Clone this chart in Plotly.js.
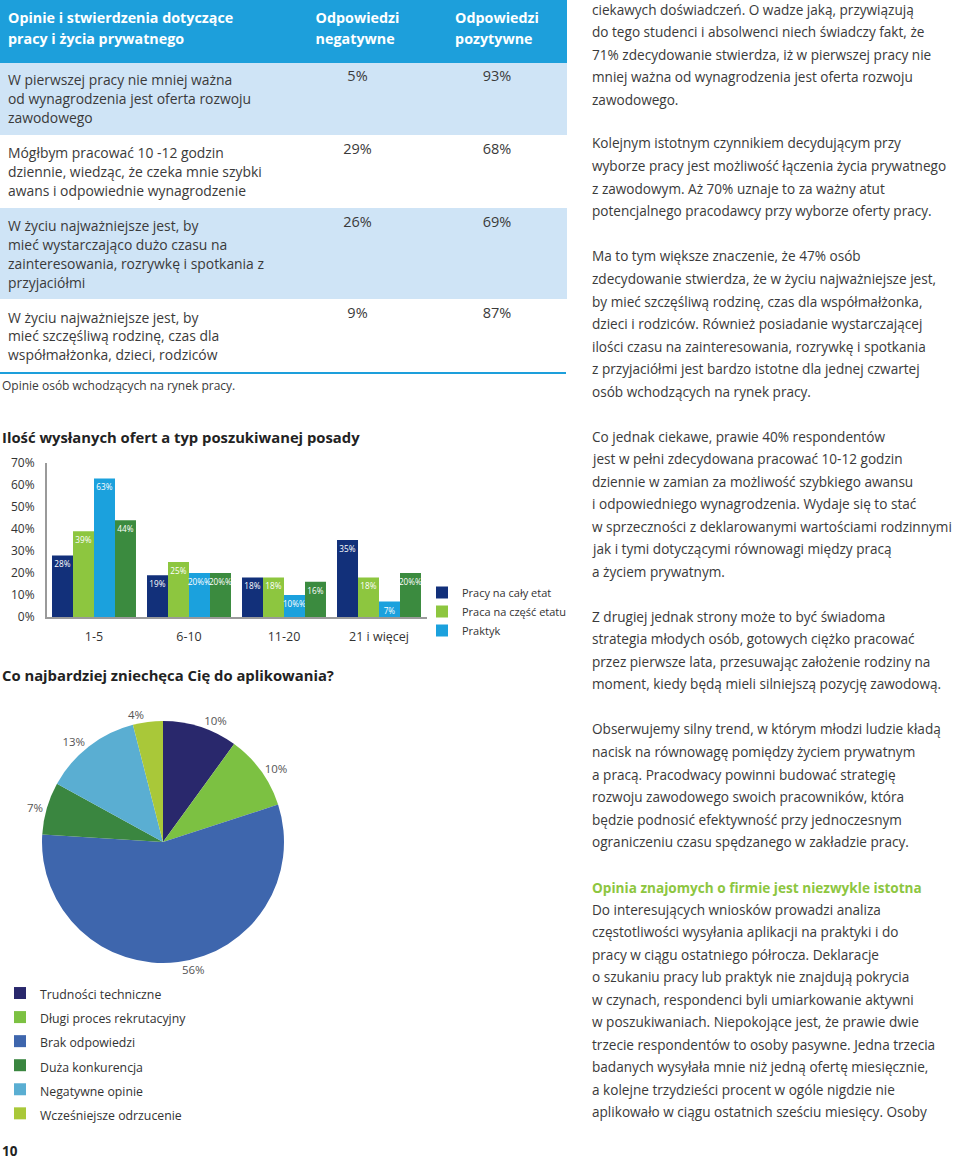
<!DOCTYPE html>
<html><head><meta charset="utf-8">
<script src="https://cdn.plot.ly/plotly-3.0.1.min.js"></script>
<style>html,body{margin:0;padding:0;background:#fff}#chart{width:960px;height:1162px}</style>
</head><body><div id="chart"></div>
<script>
// ---------------- DATA ----------------
const tableHeader = ['Opinie i stwierdzenia dotyczące<br>pracy i życia prywatnego', 'Odpowiedzi<br>negatywne', 'Odpowiedzi<br>pozytywne'];
const statements = [
  'W pierwszej pracy nie mniej ważna<br>od wynagrodzenia jest oferta rozwoju<br>zawodowego',
  'Mógłbym pracować 10 -12 godzin<br>dziennie, wiedząc, że czeka mnie szybki<br>awans i odpowiednie wynagrodzenie',
  'W życiu najważniejsze jest, by<br>mieć wystarczająco dużo czasu na<br>zainteresowania, rozrywkę i spotkania z<br>przyjaciółmi',
  'W życiu najważniejsze jest, by<br>mieć szczęśliwą rodzinę, czas dla<br>współmałżonka, dzieci, rodziców'
];
const negativeAnswers = [5, 29, 26, 9];
const positiveAnswers = [93, 68, 69, 87];
const tableNote = 'Opinie osób wchodzących na rynek pracy.';

const barTitle = 'Ilość wysłanych ofert a typ poszukiwanej posady';
const offerCategories = ['1-5', '6-10', '11-20', '21 i więcej'];
const fullTimeJob = [28, 19, 18, 35];
const partTimeJob = [39, 25, 18, 18];
const internship = [63, 20, 10, 7];
const fourthSeries = [44, 20, 16, 20];
const barSeriesNames = ['Pracy na cały etat', 'Praca na część etatu', 'Praktyk', 'Pozostałe'];
const yTickValues = [0, 10, 20, 30, 40, 50, 60, 70];
const yTickLabels = ['0%', '10%', '20%', '30%', '40%', '50%', '60%', '70%'];

const pieTitle = 'Co najbardziej zniechęca Cię do aplikowania?';
const pieLabels = ['Trudności techniczne', 'Długi proces rekrutacyjny', 'Brak odpowiedzi', 'Duża konkurencja', 'Negatywne opinie', 'Wcześniejsze odrzucenie'];
const pieValues = [10, 10, 56, 7, 13, 4];

const pageNumber = '10';
const sideHeading = 'Opinia znajomych o firmie jest niezwykle istotna';
const paragraphs = [
  ['ciekawych doświadczeń. O wadze jaką, przywiązują',
   'do tego studenci i absolwenci niech świadczy fakt, że',
   '71% zdecydowanie stwierdza, iż w pierwszej pracy nie',
   'mniej ważna od wynagrodzenia jest oferta rozwoju',
   'zawodowego.'],
  ['Kolejnym istotnym czynnikiem decydującym przy',
   'wyborze pracy jest możliwość łączenia życia prywatnego',
   'z zawodowym. Aż 70% uznaje to za ważny atut',
   'potencjalnego pracodawcy przy wyborze oferty pracy.'],
  ['Ma to tym większe znaczenie, że 47% osób',
   'zdecydowanie stwierdza, że w życiu najważniejsze jest,',
   'by mieć szczęśliwą rodzinę, czas dla współmałżonka,',
   'dzieci i rodziców. Również posiadanie wystarczającej',
   'ilości czasu na zainteresowania, rozrywkę i spotkania',
   'z przyjaciółmi jest bardzo istotne dla jednej czwartej',
   'osób wchodzących na rynek pracy.'],
  ['Co jednak ciekawe, prawie 40% respondentów',
   'jest w pełni zdecydowana pracować 10-12 godzin',
   'dziennie w zamian za możliwość szybkiego awansu',
   'i odpowiedniego wynagrodzenia. Wydaje się to stać',
   'w sprzeczności z deklarowanymi wartościami rodzinnymi',
   'jak i tymi dotyczącymi równowagi między pracą',
   'a życiem prywatnym.'],
  ['Z drugiej jednak strony może to być świadoma',
   'strategia młodych osób, gotowych ciężko pracować',
   'przez pierwsze lata, przesuwając założenie rodziny na',
   'moment, kiedy będą mieli silniejszą pozycję zawodową.'],
  ['Obserwujemy silny trend, w którym młodzi ludzie kładą',
   'nacisk na równowagę pomiędzy życiem prywatnym',
   'a pracą. Pracodwacy powinni budować strategię',
   'rozwoju zawodowego swoich pracowników, która',
   'będzie podnosić efektywność przy jednoczesnym',
   'ograniczeniu czasu spędzanego w zakładzie pracy.'],
  ['Do interesujących wniosków prowadzi analiza',
   'częstotliwości wysyłania aplikacji na praktyki i do',
   'pracy w ciągu ostatniego półrocza. Deklaracje',
   'o szukaniu pracy lub praktyk nie znajdują pokrycia',
   'w czynach, respondenci byli umiarkowanie aktywni',
   'w poszukiwaniach. Niepokojące jest, że prawie dwie',
   'trzecie respondentów to osoby pasywne. Jedna trzecia',
   'badanych wysyłała mnie niż jedną ofertę miesięcznie,',
   'a kolejne trzydzieści procent w ogóle nigdzie nie',
   'aplikowało w ciągu ostatnich sześciu miesięcy. Osoby']
];

// ---------------- LAYOUT HELPERS ----------------
const W = 960, H = 1162;
const px = x => x / W;
const py = y => 1 - y / H;
const FONT = 'Open Sans, Noto Sans, sans-serif';
const TXT = '#3a3a3a';
const paragraphStartY = [9, 143, 256, 436, 616, 729, 909];
const headingY = 887;
const lineStep = 22.55;

const barColors = ['#12307a', '#8dc63f', '#1ba1dd', '#3b8b3f'];
const pieColors = ['#29286c', '#7cc142', '#3e66ad', '#3a8640', '#5aaed2', '#a9c839'];
const rowFill = ['#cfe4f6', '#ffffff', '#cfe4f6', '#ffffff'];
const headFill = '#1d9fdb';
const span = (t, size, bold) => '<span style="font-size:' + size + 'px">' + (bold ? '<b>' + t + '</b>' : t) + '</span>';

// ---------------- TRACES ----------------
const traces = [];
traces.push({
  type: 'table',
  domain: {x: [0, px(566)], y: [py(385), 1]},
  columnwidth: [287, 141, 138],
  header: {
    values: tableHeader.map(t => span(t, 14.3, true)),
    align: ['left', 'center', 'center'],
    fill: {color: headFill},
    line: {color: headFill, width: 1},
    font: {family: FONT, size: 16.5, color: '#ffffff'},
    height: 62
  },
  cells: {
    values: [statements.map(t => span(t, 13.9)),
             negativeAnswers.map(v => v + '%'),
             positiveAnswers.map(v => v + '%')],
    align: ['left', 'center', 'center'],
    fill: {color: [rowFill, rowFill, rowFill]},
    line: {color: [rowFill, rowFill, rowFill], width: 1},
    font: {family: FONT, size: 14.5, color: TXT},
    height: 73
  }
});

const barSeries = [fullTimeJob, partTimeJob, internship, fourthSeries];
barSeries.forEach((vals, i) => {
  traces.push({
    type: 'bar', x: offerCategories, y: vals, name: barSeriesNames[i],
    showlegend: i < 3, legend: 'legend',
    marker: {color: barColors[i]},
    texttemplate: '%{y}%', textposition: 'inside', insidetextanchor: 'end',
    constraintext: 'none', textangle: 0,
    textfont: {family: FONT, size: 8.2, color: '#ffffff'},
    hoverinfo: 'x+y+name'
  });
});

traces.push({
  type: 'pie', labels: pieLabels.map(l => span(l, 12.3)),
  values: pieValues, sort: false, direction: 'clockwise', rotation: 0,
  marker: {colors: pieColors, line: {width: 0}},
  texttemplate: '%{value}%', textposition: 'outside',
  outsidetextfont: {family: FONT, size: 11.5, color: '#555555'},
  domain: {x: [px(42), px(284)], y: [py(963), py(721)]},
  legend: 'legend2', showlegend: true, automargin: false
});

// ---------------- ANNOTATIONS ----------------
const annotations = [];
const ann = (text, x, y, opts = {}) => annotations.push(Object.assign({
  text, x: px(x), y: py(y), xref: 'paper', yref: 'paper', xanchor: 'left', yanchor: 'middle',
  showarrow: false, font: {family: FONT, size: 13.6, color: TXT}
}, opts));

paragraphs.forEach((lines, p) => {
  lines.forEach((line, i) => ann(line, 590, paragraphStartY[p] + i * lineStep));
});
ann('<b>' + sideHeading + '</b>', 590, headingY, {font: {family: FONT, size: 13.6, color: '#8dc63f'}});
ann(tableNote, 0, 386, {font: {family: FONT, size: 12, color: TXT}});
ann('<b>' + barTitle + '</b>', 0, 437, {font: {family: FONT, size: 14.8, color: '#222222'}});
ann('<b>' + pieTitle + '</b>', 0, 675, {font: {family: FONT, size: 14.8, color: '#222222'}});
ann('<b>' + pageNumber + '</b>', 0, 1162, {yanchor: 'bottom', font: {family: FONT, size: 13.5, color: '#222222'}});

const layout = {
  width: W, height: H,
  margin: {l: 0, r: 0, t: 0, b: 0, autoexpand: false},
  paper_bgcolor: '#ffffff', plot_bgcolor: 'rgba(0,0,0,0)',
  font: {family: FONT, color: TXT},
  barmode: 'group', bargap: 0.116, bargroupgap: 0,
  xaxis: {
    domain: [px(46.5), px(426.5)], anchor: 'y', type: 'category',
    showline: true, linecolor: '#9a9a9a', linewidth: 1.5, ticks: '', showgrid: false,
    tickfont: {family: FONT, size: 12.5, color: '#333333'}, ticklabelstandoff: 7, fixedrange: true
  },
  yaxis: {
    domain: [py(617), py(463)], anchor: 'x', range: [0, 70],
    tickmode: 'array', tickvals: yTickValues, ticktext: yTickLabels,
    showline: true, linecolor: '#9a9a9a', linewidth: 1.5, ticks: '', showgrid: false, zeroline: false,
    tickfont: {family: FONT, size: 12, color: '#333333'}, ticklabelstandoff: 8, fixedrange: true
  },
  legend: {
    x: px(422), y: py(578), xanchor: 'left', yanchor: 'top', bgcolor: 'rgba(0,0,0,0)',
    font: {family: FONT, size: 11, color: '#333333'}, traceorder: 'normal'
  },
  legend2: {
    x: 0, y: py(976), xanchor: 'left', yanchor: 'top', bgcolor: 'rgba(0,0,0,0)',
    font: {family: FONT, size: 16.2, color: '#333333'}, traceorder: 'normal'
  },
  shapes: [{type: 'line', xref: 'paper', yref: 'paper', x0: 0, x1: px(566), y0: py(373), y1: py(373),
            line: {color: headFill, width: 2}}],
  annotations
};

Plotly.newPlot('chart', traces, layout, {displayModeBar: false, staticPlot: true});
</script></body></html>
